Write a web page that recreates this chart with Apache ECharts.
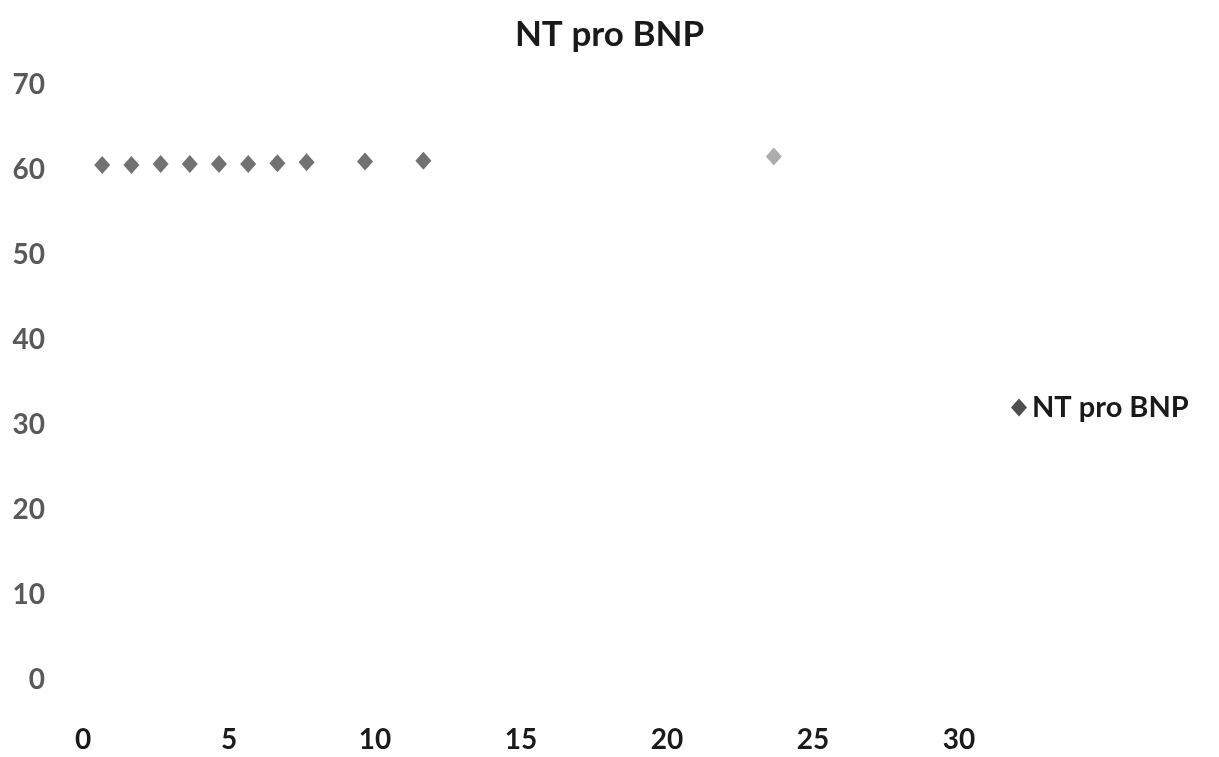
<!DOCTYPE html>
<html>
<head>
<meta charset="utf-8">
<script src="https://cdn.jsdelivr.net/npm/echarts@6/dist/echarts.min.js"></script>
<style>
html,body{margin:0;padding:0;background:#fff;}
#chart{width:1219px;height:757px;}
</style>
</head>
<body>
<div id="chart"></div>
<script>
const seriesName = 'NT pro BNP';
const xValues = [1, 2, 3, 4, 5, 6, 7, 8, 10, 12, 24];
const yValues = [60.6, 60.6, 60.7, 60.7, 60.7, 60.7, 60.8, 60.9, 61.0, 61.1, 61.6];
const xTicks = [0, 5, 10, 15, 20, 25, 30];
const yTicks = [0, 10, 20, 30, 40, 50, 60, 70];

const FONT = 'Lato, "Open Sans", sans-serif';
const chart = echarts.init(document.getElementById('chart'));
const data = xValues.map((x, i) => {
  const d = { value: [x, yValues[i]] };
  if (x === 24) d.itemStyle = { color: '#999999' };
  return d;
});
chart.setOption({
  animation: false,
  backgroundColor: '#ffffff',
  title: {
    text: seriesName,
    left: 'center',
    top: 12,
    textStyle: { fontFamily: FONT, fontWeight: 'bold', fontSize: 35, color: '#1a1a1a' }
  },
  legend: {
    data: [seriesName],
    icon: 'diamond',
    itemStyle: { color: '#222222' },
    orient: 'vertical',
    left: 1006,
    top: 388,
    itemWidth: 16,
    itemHeight: 18,
    itemGap: 8,
    textStyle: { fontFamily: FONT, fontWeight: 'bold', fontSize: 29, color: '#1a1a1a' }
  },
  grid: { left: 73, right: 1219 - 949, top: 85, bottom: 77, containLabel: false },
  xAxis: {
    type: 'value',
    min: 0, max: 30, interval: 5,
    axisLine: { show: false },
    axisTick: { show: false },
    splitLine: { show: false },
    axisLabel: {
      margin: 46,
      padding: [0, 0, 0, 20],
      fontFamily: FONT, fontWeight: 'bold', fontSize: 28, color: '#1a1a1a',
      formatter: v => xTicks.includes(v) ? String(v) : ''
    }
  },
  yAxis: {
    type: 'value',
    min: 0, max: 70, interval: 10,
    axisLine: { show: false },
    axisTick: { show: false },
    splitLine: { show: false },
    axisLabel: {
      margin: 28,
      fontFamily: FONT, fontWeight: 'bold', fontSize: 28, color: '#595959',
      formatter: v => yTicks.includes(v) ? String(v) : ''
    }
  },
  series: [{
    name: seriesName,
    type: 'scatter',
    symbol: 'diamond',
    symbolSize: [16, 18],
    itemStyle: { color: '#4f4f4f' },
    data: data
  }]
});
</script>
</body>
</html>
